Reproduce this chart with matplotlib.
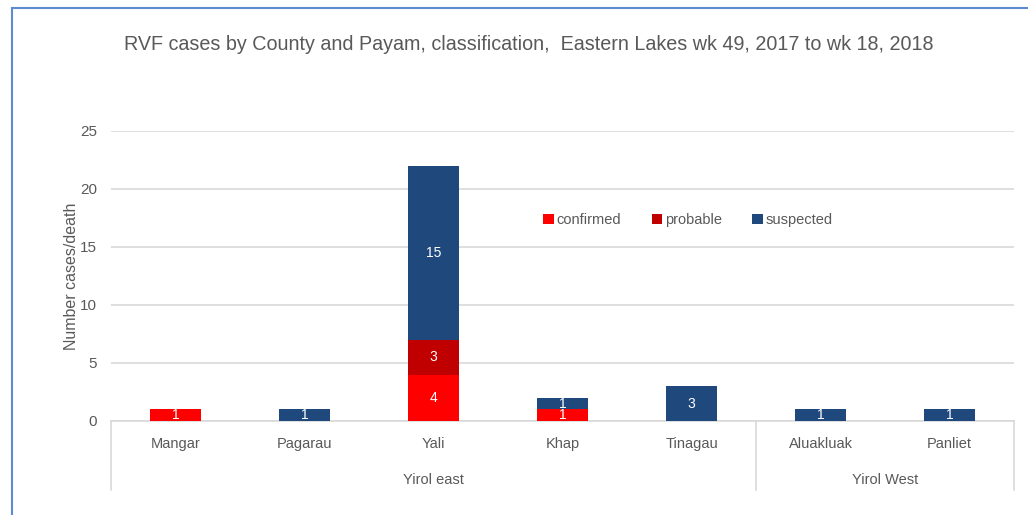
import matplotlib
matplotlib.use("Agg")
import matplotlib.pyplot as plt
import matplotlib.transforms as mtrans
from matplotlib.patches import Rectangle
from matplotlib.lines import Line2D
import numpy as np

plt.rcParams['font.family'] = ['Liberation Sans', 'DejaVu Sans']

categories = ["Mangar", "Pagarau", "Yali", "Khap", "Tinagau", "Aluakluak", "Panliet"]
groups = ["Yirol east", "Yirol West"]
group_sizes = [5, 2]
confirmed = [1, 0, 4, 1, 0, 0, 0]
probable = [0, 0, 3, 0, 0, 0, 0]
suspected = [0, 1, 15, 1, 3, 1, 1]
series_names = ["confirmed", "probable", "suspected"]
colors = ["#FF0000", "#C00000", "#1F497D"]
title = "RVF cases by County and Payam, classification,  Eastern Lakes wk 49, 2017 to wk 18, 2018"

W, H = 1028, 515
fig = plt.figure(figsize=(W / 100, H / 100), dpi=100)
ax = fig.add_axes([111 / W, (H - 421) / H, (1014 - 111) / W, (421 - 131) / H])

txt = "#595959"
grid = "#D9D9D9"
x = np.arange(len(categories))
bottom = np.zeros(len(categories))
for name, vals, c in zip(series_names, [confirmed, probable, suspected], colors):
    vals = np.array(vals, dtype=float)
    ax.bar(x, vals, 0.4, bottom=bottom, color=c, label=name, zorder=3)
    for xi, b, v in zip(x, bottom, vals):
        if v > 0:
            ax.text(xi, b + v / 2, f"{int(v)}", ha="center", va="center",
                    color="white", fontsize=10, zorder=4)
    bottom += vals

ax.set_xlim(-0.5, len(categories) - 0.5)
ax.set_ylim(0, 25)
ax.set_yticks([0, 5, 10, 15, 20, 25])
ax.yaxis.grid(True, color=grid, linewidth=1.2, zorder=0)
ax.set_axisbelow(True)
for s in ["top", "right", "left"]:
    ax.spines[s].set_visible(False)
ax.spines["bottom"].set_color(grid)
ax.spines["bottom"].set_linewidth(1.2)
ax.tick_params(axis="y", length=0, pad=10, labelsize=11, labelcolor=txt)
ax.tick_params(axis="x", length=0, labelbottom=False)
ax.set_ylabel("Number cases/death", fontsize=11.5, color=txt, labelpad=1)

trans = mtrans.blended_transform_factory(ax.transData, ax.transAxes)
ax_h = (421 - 131)
for xi, cat in zip(x, categories):
    ax.text(xi, -(444 - 421) / ax_h, cat, transform=trans, ha="center", va="center",
            fontsize=10.5, color=txt)

start = 0
bounds = [start]
for g, n in zip(groups, group_sizes):
    ax.text(start + (n - 1) / 2, -(480 - 421) / ax_h, g, transform=trans, ha="center",
            va="center", fontsize=10.5, color=txt)
    start += n
    bounds.append(start)
for bnd in bounds:
    ax.add_line(Line2D([bnd - 0.5, bnd - 0.5], [0, -(490 - 421) / ax_h], transform=trans,
                       color=grid, linewidth=1.2, clip_on=False))

ax.legend(loc="center", bbox_to_anchor=((688 - 111) / (1014 - 111), (421 - 220) / ax_h),
          ncol=3, frameon=False, fontsize=10.5, handlelength=0.7, handleheight=0.7,
          handletextpad=0.2, columnspacing=2.1, labelcolor=txt)

fig.text((127 + 930) / 2 / W, (H - 45) / H, title, ha="center", va="center",
         fontsize=14.2, color=txt)

fig.add_artist(Rectangle((12 / W, -0.1), 1.2, (H - 8) / H + 0.1, transform=fig.transFigure,
                         fill=False, edgecolor="#5B8BD0", linewidth=1.5))

fig.savefig("out.png", dpi=100)
